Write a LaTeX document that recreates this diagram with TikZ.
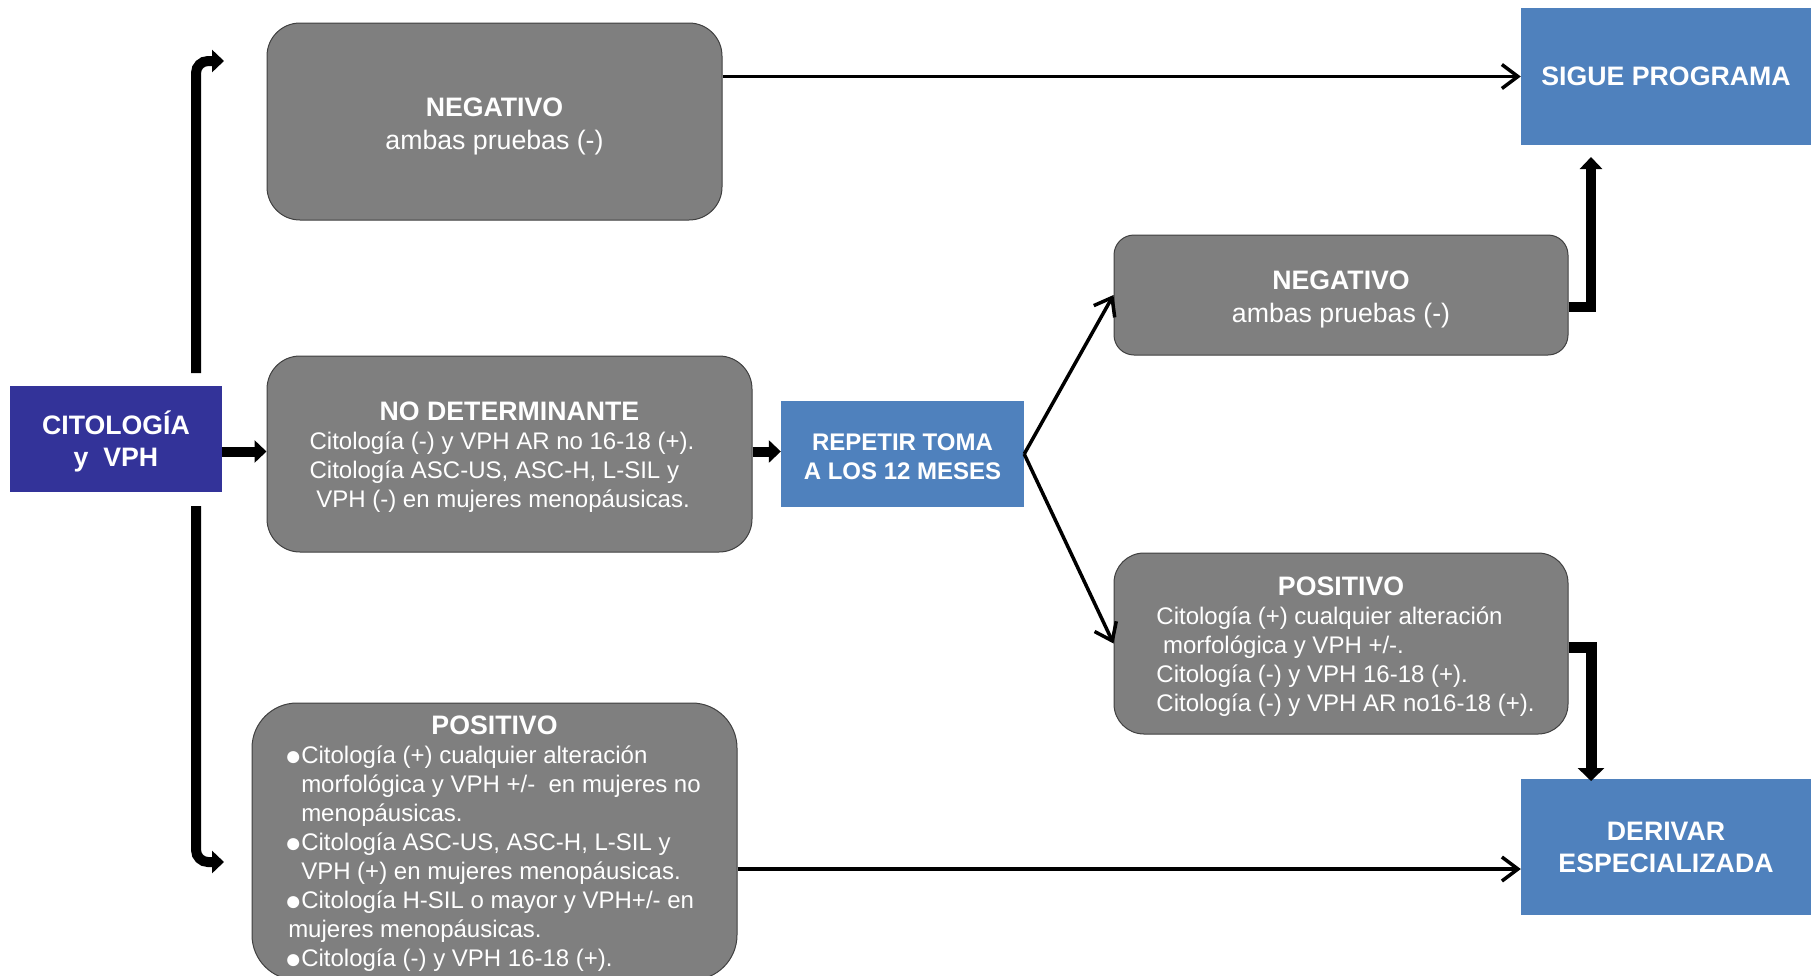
\documentclass[tikz,border=0pt]{standalone}
\usepackage{fontspec}
\setmainfont{Liberation Sans}
\usetikzlibrary{arrows.meta}
\definecolor{boxgray}{HTML}{7F7F7F}
\definecolor{edgegray}{HTML}{404040}
\definecolor{pblue}{HTML}{4F81BD}
\definecolor{navy}{HTML}{333399}
\newcommand{\ttlx}[2]{\multicolumn{1}{c}{\rule{0pt}{#1}\fontsize{26.7}{29}\selectfont\bfseries #2}}
\newcommand{\bulx}{\makebox[13pt][l]{\makebox[10pt][c]{\fontsize{28}{28}\selectfont\raisebox{-2pt}{●}}}}
\begin{document}
\begin{tikzpicture}[x=1pt,y=-1pt,
  gbox/.style={draw=edgegray, line width=1pt, fill=boxgray, text=white,
    font=\fontsize{24}{29}\selectfont, inner sep=0pt},
  bbox/.style={fill=pblue, text=white, font=\fontsize{26.7}{32}\selectfont\bfseries,
    align=center, inner sep=0pt},
  fat/.style={line width=10pt, -{Triangle[length=12pt,width=22pt]}},
  slim/.style={line width=3.5pt, -{Straight Barb[length=16pt,width=24pt]}},
]
\useasboundingbox (0,0) rectangle (1814,975);

% blue boxes
\node[bbox, fill=navy, minimum width=212pt, minimum height=106pt] (cit) at (116,439) {\rule{0pt}{29pt}CITOLOGÍA\\y\ \ VPH};
\node[bbox, minimum width=243pt, minimum height=106pt, font=\fontsize{24}{29}\selectfont\bfseries] (rep) at (902.5,454) {\rule{0pt}{21.8pt}REPETIR TOMA\\A LOS 12 MESES};
\node[bbox, minimum width=290pt, minimum height=137pt] (sigue) at (1666,76.5) {SIGUE PROGRAMA};
\node[bbox, minimum width=290pt, minimum height=136pt] (deriv) at (1666,847) {DERIVAR\\ESPECIALIZADA};

% gray boxes
\node[gbox, rounded corners=33pt, minimum width=455pt, minimum height=197pt, align=center,
  font=\fontsize{26.7}{33}\selectfont] (negA) at (494.5,121.5) {\rule{0pt}{28.3pt}\textbf{NEGATIVO}\\ambas pruebas (-)};
\node[gbox, rounded corners=33pt, minimum width=485pt, minimum height=196pt] (nodet) at (509.5,454)
  {\begin{tabular}{@{}l@{\hspace{15pt}}}
   \ttlx{29.5pt}{NO DETERMINANTE}\\
   Citología (-) y VPH AR no 16-18 (+).\\
   Citología ASC-US, ASC-H, L-SIL y\\
   \hspace*{6.7pt}VPH (-) en mujeres menopáusicas.
   \end{tabular}};
\node[gbox, rounded corners=45pt, minimum width=485pt, minimum height=277pt] (posL) at (494.5,841.5)
  {\begin{tabular}{@{}l@{}}
   \ttlx{27.3pt}{POSITIVO}\\
   \bulx Citología (+) cualquier alteración\\
   \hspace*{13pt}morfológica y VPH +/-\ \ en mujeres no\\
   \hspace*{13pt}menopáusicas.\\
   \bulx Citología ASC-US, ASC-H, L-SIL y\\
   \hspace*{13pt}VPH (+) en mujeres menopáusicas.\\
   \bulx Citología H-SIL o mayor y VPH+/- en\\
   mujeres menopáusicas.\\
   \bulx Citología (-) y VPH 16-18 (+).
   \end{tabular}};
\node[gbox, rounded corners=20pt, minimum width=454pt, minimum height=120pt, align=center,
  font=\fontsize{26.7}{33}\selectfont] (negB) at (1341,295) {\rule{0pt}{28.3pt}\textbf{NEGATIVO}\\ambas pruebas (-)};
\node[gbox, rounded corners=30pt, minimum width=454pt, minimum height=181pt] (posR) at (1341,643.5)
  {\begin{tabular}{@{\hspace{9pt}}l@{}}
   \ttlx{29.5pt}{POSITIVO}\\
   Citología (+) cualquier alteración\\
   \hspace*{6.7pt}morfológica y VPH +/-.\\
   Citología (-) y VPH 16-18 (+).\\
   Citología (-) y VPH AR no16-18 (+).
   \end{tabular}};

% helper coordinates
\coordinate (upS) at (196,373);
\coordinate (upE) at (224,61);
\coordinate (dnS) at (196,506);
\coordinate (dnE) at (224,862);
\coordinate (yMid) at (0,451.5);
\coordinate (yNB) at (0,307);
\coordinate (sgE) at (1591,157);
\coordinate (yPR) at (0,647);
\coordinate (dvE) at (1591,781);
\coordinate (yPL) at (0,869);

% thick connectors
\draw[fat, rounded corners=12pt] (upS) |- (upE);
\draw[fat, rounded corners=12pt] (dnS) |- (dnE);
\draw[fat] (cit.east |- yMid) -- (nodet.west |- yMid);
\draw[fat] (nodet.east |- yMid) -- (rep.west |- yMid);
\draw[fat] (negB.east |- yNB) -| (sgE);
\draw[line width=11pt, -{Triangle[length=13pt,width=26pt]}] (posR.east |- yPR) -| (dvE);

% thin connectors
\draw[slim] (negA.east |- sigue.west) -- (sigue.west);
\draw[slim] (posL.east |- yPL) -- (deriv.west |- yPL);
\draw[slim] (rep.east) -- (negB.west);
\draw[slim] (rep.east) -- (posR.west);
\end{tikzpicture}
\end{document}
